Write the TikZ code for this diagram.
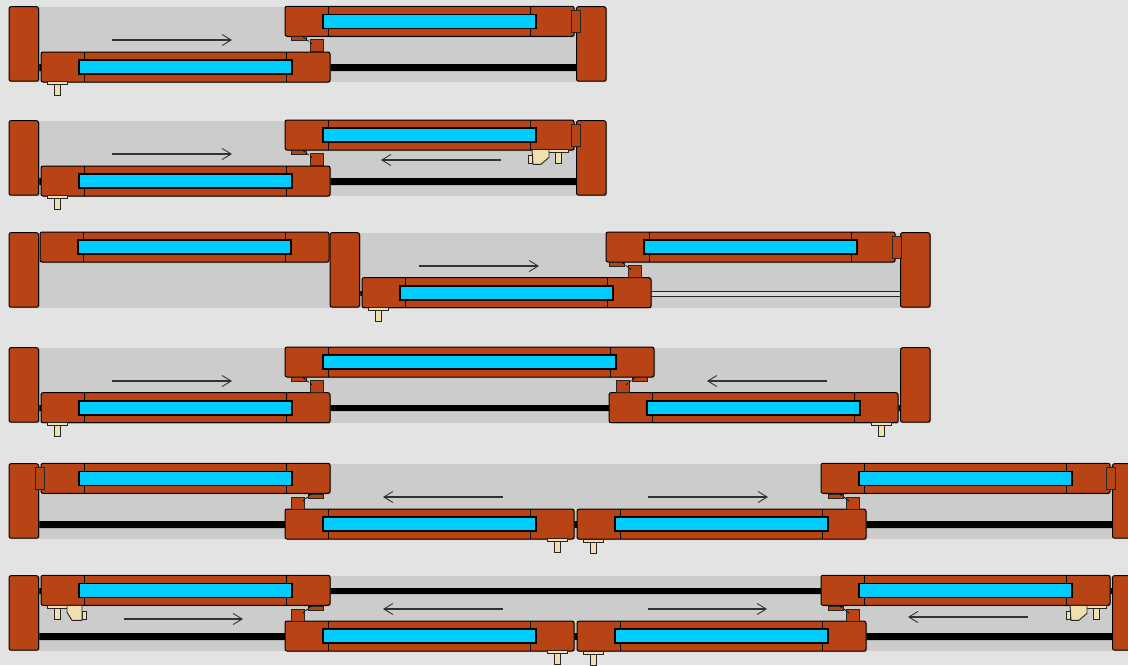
\documentclass[tikz,border=0pt]{standalone}
\usetikzlibrary{arrows.meta}
\definecolor{pagebg}{HTML}{E3E3E3}
\definecolor{bandbg}{HTML}{CCCCCC}
\definecolor{frame}{HTML}{B84416}
\definecolor{glass}{HTML}{00CCFF}
\definecolor{cream}{HTML}{F0E0B0}
\tikzset{
  wood/.style={fill=frame,draw=black,line width=1pt,rounded corners=2pt},
  woodsq/.style={fill=frame,draw=black!85,line width=1pt},
  pane/.style={fill=glass,draw=black,line width=1.6pt},
  divider/.style={draw=black,line width=1pt},
  shade/.style={fill=black!45,opacity=.55,rounded corners=2pt},
  track/.style={fill=black},
  metal/.style={fill=cream,draw=black!85,line width=.9pt},
  move/.style={draw=black!80,line width=1.9pt,-{Straight Barb[length=9pt,width=11pt,line width=.9pt]}},
  catch/.style={draw=black,line width=.7pt,dash pattern=on 3pt off 1.5pt}
}
\newcommand{\post}[2]{%
  \fill[shade] (#1+1,#2+1) rectangle ++(29.5,74.5);
  \draw[wood] (#1,#2) rectangle ++(29.5,74.5);}
\newcommand{\sash}[3]{%
  \begin{scope}[shift={(#1,#2)}]
    \fill[shade] (1,1) rectangle (#3+1,31);
    \draw[wood] (0,0) rectangle (#3,30);
    \draw[divider] (43.5,0) -- (43.5,30) (#3-44,0) -- (#3-44,30);
    \draw[pane] (38,8) rectangle (#3-38,22);
  \end{scope}}
\newcommand{\keeper}[2]{% centre x, top y
  \draw[metal] (#1-3,#2+3) rectangle (#1+3,#2+14);
  \draw[metal] (#1-10,#2) rectangle (#1+10,#2+3);}
\newcommand{\latch}[5]{% tab x, square x, sash bottom, dash x1, dash x2
  \draw[woodsq] (#1,#3) rectangle ++(15,4);
  \draw[woodsq] (#2,#3+3) rectangle ++(13.5,12);
  \draw[catch] (#4,#3) -- (#5,#3+7);}
\newcommand{\pad}[2]{\draw[woodsq] (#1,#2) rectangle ++(9,22.5);}
\newcommand{\handleR}[2]{% handle left x, top y (bevel at lower right)
  \draw[metal] (#1-4,#2+6) rectangle (#1,#2+14);
  \draw[metal] (#1,#2) -- (#1+17,#2) -- (#1+17,#2+8) -- (#1+9,#2+15) -- (#1+1,#2+15) -- cycle;}
\newcommand{\handleL}[2]{% handle left x, top y (bevel at lower left)
  \draw[metal] (#1+15,#2+6) rectangle (#1+19,#2+14);
  \draw[metal] (#1,#2) -- (#1+15,#2) -- (#1+15,#2+15) -- (#1+5,#2+15) -- (#1,#2+7) -- cycle;}
\begin{document}
\begin{tikzpicture}[x=1pt,y=-1pt]
\useasboundingbox (0,0) rectangle (1128,665);
\clip (0,0) rectangle (1128,665);
\fill[pagebg] (0,0) rectangle (1128,665);

% Row 1
\fill[bandbg] (38,7) rectangle (577,81.5);
\fill[track] (38,64) rectangle (41,71) (330,64) rectangle (577,71);
\post{9}{6.7}
\post{576.5}{6.7}
\sash{41}{52}{289}
\sash{285}{6.3}{289}
\pad{571}{10}
\latch{291}{310}{36.8}{303}{312}
\keeper{57}{81.5}
\draw[move] (112,40) -- (232,40);

% Row 2
\fill[bandbg] (38,121) rectangle (577,195.5);
\fill[track] (38,178) rectangle (41,185) (330,178) rectangle (577,185);
\post{9}{120.7}
\post{576.5}{120.7}
\sash{41}{166}{289}
\sash{285}{120}{289}
\pad{571}{124}
\latch{291}{310}{150.5}{303}{312}
\keeper{558}{149.5}
\handleR{532}{149.3}
\keeper{57}{195.5}
\draw[move] (112,154) -- (232,154);
\draw[move] (501,160) -- (381,160);

% Row 3
\fill[bandbg] (38,233) rectangle (901,307.5);
\fill[track] (359,291) rectangle (362,296);
\fill[bandbg!70!white] (651,291) rectangle (901,296);
\draw[black!85,line width=.9pt] (651,291) -- (901,291) (651,296) -- (901,296);
\post{9}{232.7}
\post{330}{232.7}
\post{900.5}{232.7}
\sash{40}{232}{289}
\sash{606}{232}{289}
\sash{362}{277.7}{289}
\pad{892}{236}
\latch{609}{628}{262.5}{622}{631}
\keeper{378}{307.3}
\draw[move] (419,266) -- (539,266);

% Row 4
\fill[bandbg] (38,348) rectangle (901,422.5);
\fill[track] (38,405) rectangle (41,411) (330,405) rectangle (609,411) (898,405) rectangle (901,411);
\post{9}{347.7}
\post{900.5}{347.7}
\sash{41}{392.7}{289}
\sash{609}{392.7}{289}
\sash{285}{347}{369}
\latch{291}{310}{377.7}{303}{312}
\latch{632}{616}{377.7}{635}{626}
\keeper{57}{422.5}
\keeper{881}{422.5}
\draw[move] (112,381) -- (232,381);
\draw[move] (827,381) -- (707,381);

% Row 5
\fill[bandbg] (38,464) rectangle (1113,539);
\fill[track] (38,521) rectangle (285,528) (574,521) rectangle (577,528) (866,521) rectangle (1113,528);
\post{9}{463.7}
\post{1112.5}{463.7}
\sash{41}{463.3}{289}
\sash{821}{463.3}{289}
\sash{285}{509}{289}
\sash{577}{509.2}{289}
\pad{35.5}{467}
\pad{1106.5}{467}
\latch{308}{291}{494}{311}{303}
\latch{828}{846}{494}{840}{849}
\keeper{557}{538.7}
\keeper{593}{539}
\draw[move] (503,497) -- (383,497);
\draw[move] (648,497) -- (768,497);

% Row 6
\fill[bandbg] (38,576) rectangle (1113,651);
\fill[track] (38,588) rectangle (41,594) (330,588) rectangle (821,594) (1110,588) rectangle (1113,594);
\fill[track] (38,633) rectangle (285,640) (574,633) rectangle (577,640) (866,633) rectangle (1113,640);
\post{9}{575.7}
\post{1112.5}{575.7}
\sash{41}{575.3}{289}
\sash{821}{575.3}{289}
\sash{285}{621}{289}
\sash{577}{621.2}{289}
\latch{308}{291}{606}{311}{303}
\latch{828}{846}{606}{840}{849}
\keeper{57}{605}
\keeper{1096}{605}
\handleL{67}{605.3}
\handleR{1070}{605.3}
\keeper{557}{650.7}
\keeper{593}{651}
\draw[move] (124,619) -- (243,619);
\draw[move] (503,609) -- (383,609);
\draw[move] (648,609) -- (767,609);
\draw[move] (1028,617) -- (908,617);
\end{tikzpicture}
\end{document}
